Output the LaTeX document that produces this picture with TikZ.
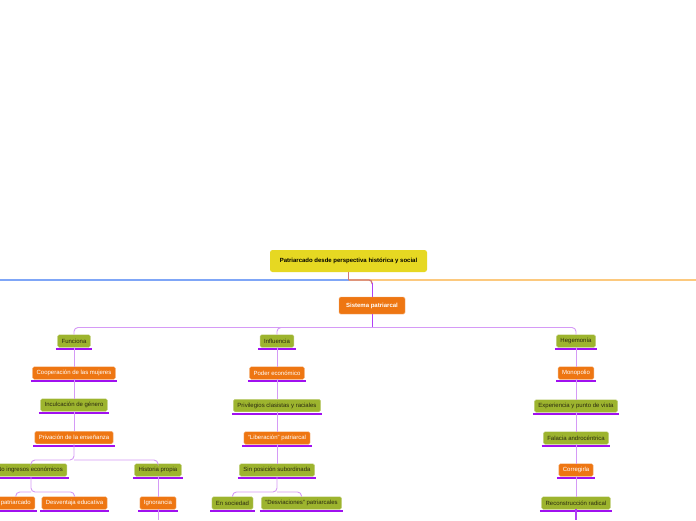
\documentclass[tikz,border=0pt]{standalone}
\usepackage{fontspec}
\setmainfont{Liberation Sans}
\usetikzlibrary{calc}
\definecolor{rootc}{HTML}{E6D822}
\definecolor{orc}{HTML}{EE7612}
\definecolor{grc}{HTML}{9DB42E}
\definecolor{barc}{HTML}{A010F0}
\definecolor{connc}{HTML}{D59AF6}
\definecolor{darkc}{HTML}{B040F5}
\definecolor{bluec}{HTML}{7FA6F7}
\definecolor{peachc}{HTML}{FCC97E}
\definecolor{redc}{HTML}{D07878}
\definecolor{txtc}{HTML}{2A2A10}
\tikzset{
  box/.style={rounded corners=1.5pt, minimum height=12.5pt, inner xsep=4pt, inner ysep=0pt,
    font=\fontsize{6}{7}\selectfont},
  orbox/.style={box, fill=orc, draw=orc!60!white, line width=0.4pt, text=white},
  grbox/.style={box, fill=grc, draw=grc!60!white, line width=0.4pt, text=txtc},
  ubar/.style={append after command={\pgfextra{\draw[barc, line width=2pt]
      ([xshift=-1.5pt,yshift=-2pt]\tikzlastnode.south west) -- ([xshift=1.5pt,yshift=-2pt]\tikzlastnode.south east);}}},
  ornode/.style={orbox, ubar},
  grnode/.style={grbox, ubar},
  conn/.style={draw=connc, line width=0.9pt, rounded corners=4pt},
  dconn/.style={draw=darkc, line width=1pt, rounded corners=4pt},
}
\begin{document}
\begin{tikzpicture}[x=1pt,y=-1pt]
\useasboundingbox (0,0) rectangle (696,520);
\clip (0,0) rectangle (696,520);
\fill[white] (0,0) rectangle (696,520);

% root
\node[box, fill=rootc, minimum width=157pt, minimum height=22pt, rounded corners=2.5pt,
  font=\fontsize{6}{7}\selectfont\bfseries, text=black] (root) at (348.5,261) {Patriarcado desde perspectiva histórica y social};
\coordinate (L) at (0,280);
\coordinate (R) at (696,280);
\node[orbox, minimum width=66pt, minimum height=17pt, font=\fontsize{6}{7}\selectfont\bfseries] (sis) at (372,305.5) {Sistema patriarcal};

\draw[bluec, line width=1.3pt] (root.south |- L) -- (L);
\draw[peachc, line width=1.3pt] (root.south |- L) -- (R);
\draw[redc, line width=1.3pt] (root.south) -- (root.south |- L);
\draw[redc, line width=1.3pt, rounded corners=3pt] (root.south |- L) -- (sis.north |- L) -- ($(sis.north |- L)+(0,4)$);
\draw[darkc, line width=1pt] ($(sis.north |- L)+(0,3)$) -- (sis.north);

% level 1
\node[grnode] (fun) at (74,341) {Funciona};
\node[grnode] (inf) at (277,341) {Influencia};
\node[grnode] (heg) at (576,341) {Hegemonía};
\draw[dconn] (sis.south) -- (372,327.5);
\draw[conn] (372,327.5) -| (fun.north);
\draw[conn] (372,327.5) -| (inf.north);
\draw[conn] (372,327.5) -| (heg.north);

% Funciona column
\node[ornode] (coo) at (74,373) {Cooperación de las mujeres};
\node[grnode] (inc) at (74,405) {Inculcación de género};
\node[ornode] (pri) at (74,437.5) {Privación de la enseñanza};
\node[grnode, anchor=east] (noi) at (67,470) {No ingresos económicos};
\node[grnode] (his) at (158,470) {Historia propia};
\node[ornode, anchor=east] (pat) at (35,503) {patriarcado};
\node[ornode] (des) at (74.5,503) {Desventaja educativa};
\node[ornode] (ign) at (158,503) {Ignorancia};
\coordinate (fb) at (158,520);
\draw[conn] (fun.south) -- (coo.north);
\draw[conn] (coo.south) -- (inc.north);
\draw[conn] (inc.south) -- (pri.north);
\draw[conn] (pri.south) -- (74,460) -| ($(noi.north east)+(-36,0)$);
\draw[conn] (74,460) -| (his.north);
\draw[conn] ($(noi.south east)+(-36,0)$) -- (31,492) -| (des.north);
\draw[conn] (31,492) -| (pat.north);
\draw[conn] (his.south) -- (ign.north);
\draw[conn] (ign.south) -- (fb);

% Influencia column
\node[ornode] (pod) at (277,373) {Poder económico};
\node[grnode] (piv) at (277,405.5) {Privilegios clasistas y raciales};
\node[ornode] (lib) at (277,438) {“Liberación” patriarcal};
\node[grnode] (sin) at (277,470) {Sin posición subordinada};
\node[grnode] (ens) at (232.5,503) {En sociedad};
\node[grnode] (dev) at (301.5,503) {“Desviaciones” patriarcales};
\draw[conn] (inf.south) -- (pod.north);
\draw[conn] (pod.south) -- (piv.north);
\draw[conn] (piv.south) -- (lib.north);
\draw[conn] (lib.south) -- (sin.north);
\draw[conn] (sin.south) -- (277,492) -| (ens.north);
\draw[conn] (277,492) -| (dev.north);

% Hegemonia column
\node[ornode] (mon) at (576,373) {Monopolio};
\node[grnode] (exp) at (576,406) {Experiencia y punto de vista};
\node[grnode] (fal) at (576,438) {Falacia androcéntrica};
\node[ornode] (cor) at (576,470) {Corregirla};
\node[grnode] (rec) at (576,503) {Reconstrucción radical};
\coordinate (hb) at (576,520);
\draw[conn] (heg.south) -- (mon.north);
\draw[conn] (mon.south) -- (exp.north);
\draw[conn] (exp.south) -- (fal.north);
\draw[conn] (fal.south) -- (cor.north);
\draw[conn] (cor.south) -- (rec.north);
\draw[dconn, line width=1.3pt] (rec.south) -- (hb);
\end{tikzpicture}
\end{document}
